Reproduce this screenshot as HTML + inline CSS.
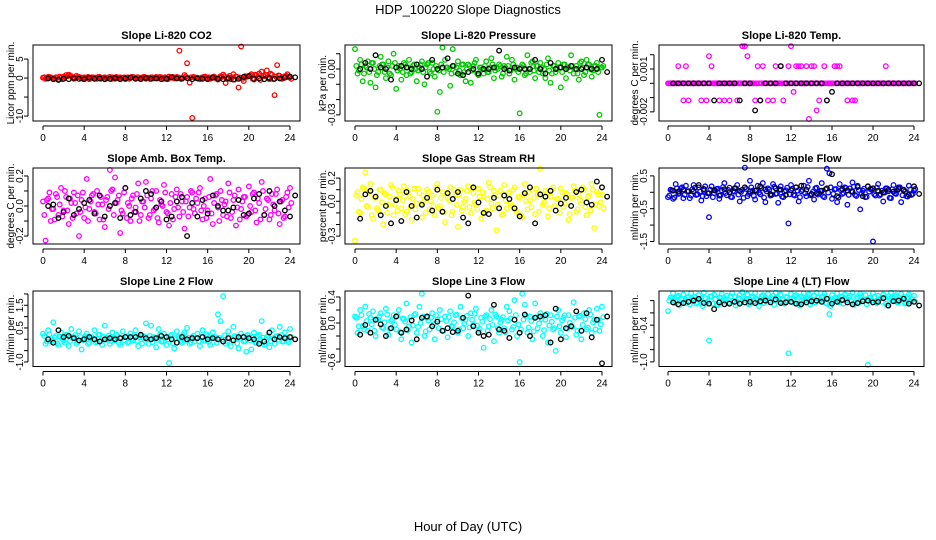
<!DOCTYPE html>
<html><head><meta charset="utf-8"><style>
html,body{margin:0;padding:0;background:#fff;}
svg{display:block;font-family:"Liberation Sans",sans-serif;}
</style></head><body>
<svg id="chart" width="936" height="540" viewBox="0 0 936 540" xmlns="http://www.w3.org/2000/svg">
<rect width="936" height="540" fill="#fff"/>
<text x="468" y="14" text-anchor="middle" font-size="13">HDP_100220  Slope Diagnostics</text>
<text x="468" y="531" text-anchor="middle" font-size="13">Hour of Day (UTC)</text>
</svg>
<script>
// Hour ticks
const hourTicks = [0,4,8,12,16,20,24];
// colored series sampled every 0.25 h (band series offset 0.125 h), black every 0.5 h
const coloredStepHours = 0.25;
const bandOffsetHours = 0.125;
const blackStepHours = 0.5;

// Panel 1: CO2 (ppm/min)
const co2Colored = [0.1,-0.2,0.3,0.2,-0.1,0.2,-0.3,0.1,0.4,0.8, 0.9,0.5,-0.2,0.6,0.3,-0.1,0.2,0.1,-0.3,0.2, 0.1,-0.2,0.3,0.0,0.2,-0.1,0.3,0.2,-0.2,0.1, 0.2,0.0,-0.3,0.2,0.1,0.3,-0.1,0.2,0.0,0.3, -0.2,0.1,0.2,-0.1,0.3,0.0,0.2,-0.2,0.1,0.4, 0.2,-0.1,0.3,7.2,0.1,0.8,3.9,-1.2,-10.5,0.2, 0.1,-0.3,0.2,0.4,0.0,-0.2,0.3,0.1,-0.4,0.5, 0.9,-1.3,0.2,-0.3,1.0,0.4,-2.5,8.3,-0.8,0.3, 0.6,1.0,-0.4,0.8,1.2,1.7,0.5,2.0,-0.3,0.9, -4.5,3.4,0.6,-0.2,0.5,1.0,0.2];
const co2Band = [0.2,-0.1,0.3,0.0,-0.2,0.1,0.4,-0.3,0.2,0.5, 0.6,0.1,-0.1,0.3,0.2,-0.2,0.0,0.3,-0.1,0.2, 0.1,0.3,-0.2,0.1,0.0,0.2,-0.3,0.1,0.3,-0.1, 0.0,0.2,0.1,-0.2,0.3,0.0,0.2,-0.1,0.1,0.3, 0.0,-0.2,0.2,0.1,-0.1,0.3,0.0,0.2,-0.3,0.1, 0.3,0.0,0.2,-0.2,0.1,0.4,-0.1,0.2,0.3,0.0, -0.2,0.1,0.3,-0.1,0.2,0.0,0.4,-0.2,0.1,0.3, 0.5,-0.3,0.6,0.2,-0.4,0.3,0.1,-0.2,0.5,0.4, 0.7,-0.2,0.9,0.3,-0.5,0.6,0.8,0.2,1.1,-0.3, 0.4,0.7,-0.1,0.3,0.6,0.2,-0.2];
const co2Black = [-0.1,-0.3,-0.5,-0.2,-0.3,0.0,-0.2,-0.3,0.1,-0.2, -0.1,-0.3,-0.2,0.0,-0.3,-0.1,0.1,-0.2,-0.3,0.0, -0.2,-0.1,-0.3,-0.2,0.2,-0.1,-0.2,0.0,-0.3,-0.1, -0.2,-0.3,0.1,-0.2,-0.3,-0.1,-0.4,-0.2,0.3,0.5, -0.2,-0.1,-0.3,0.0,-0.2,-0.1,0.1,0.4,0.2];
// Panel 2: pressure (milli-kPa/min)
const pressureColored = [13,-3,6,-8,2,5,-9,4,-12,-2, 8,3,-6,5,-4,10,-13,2,-7,4, -4,6,-2,3,-8,1,5,-10,3,-2, 4,-5,-28,-15,14,6,1,-11,13,-2, 5,-4,3,-8,3,-9,2,6,-4,1, -3,5,-2,7,-6,1,3,-5,2,8, -3,6,-7,1,-29,3,-4,9,-2,5, -6,2,4,-3,-6,7,-9,2,-2,4, -12,3,-6,1,9,-3,2,-7,5,-4, 6,3,-5,2,4,-30,1];
const pressureBand = [2,-1,3,-3,1,-2,4,0,-4,2, 3,-2,1,-3,2,4,-1,0,-2,3, 1,-3,2,0,-1,3,-2,1,4,-3, 0,2,-1,3,-2,1,0,-3,2,1, -1,3,-2,0,2,-1,4,-3,1,0, 2,-2,1,3,-1,0,2,-3,1,2, -1,3,0,-2,1,2,-3,0,4,-1, 2,-2,1,0,3,-1,-3,2,0,1, -2,3,1,-1,2,0,-3,4,1,-2, 3,0,-1,2,-2,1,2];
const pressureBlack = [0,4,0,9,1,0,-7,1,2,1, 0,3,0,-5,6,0,1,7,2,-3, -4,-2,0,-3,0,0,1,12,0,-1, 1,0,0,0,6,0,-3,4,0,1, 0,2,0,0,1,0,0,6,-2];
// Panel 3: Li-820 temp (1e-4 degC/min)
const tempColored = [0,0,0,0,12,0,-12,12,-12,0, 0,0,0,-12,0,-12,19,12,0,0, -12,0,-12,0,-12,0,0,-12,0,26, 26,19,0,0,-12,12,-12,12,0,-12, 0,-12,12,0,12,-12,0,12,26,-6, 12,12,12,0,12,-25,12,12,-19,-12, 0,12,-12,0,0,12,12,12,0,0, -12,0,-12,-12,0,0,0,0,0,0, 0,0,0,0,0,12,0,0,0,0, 0,0,0,0,0,0,0];
const tempBand = [0,0,0,0,0,0,0,0,0,0, 0,0,0,0,0,0,0,0,0,0, 0,0,0,0,0,0,0,0,0,0, 0,0,0,0,0,0,0,0,0,0, 0,0,0,0,0,0,0,0,0,0, 0,0,0,0,0,0,0,0,0,0, 0,0,0,0,0,0,0,0,0,0, 0,0,0,0,0,0,0,0,0,0, 0,0,0,0,0,0,0,0,0,0, 0,0,0,0,0,0,0];
const tempBlack = [0,0,0,0,0,0,0,0,-12,0, 0,0,0,-12,0,0,-19,-12,0,0, 0,12,0,0,0,0,0,0,0,0, -12,-6,0,0,0,0,0,0,0,0, 0,0,0,0,0,0,0,0,0];
// Panel 4: amb box temp (0.01 degC/min)
const ambColored = [3,-23,5,-10,-2,8,-6,12,-3,6, -12,2,9,-5,-20,4,-8,18,-2,7, -4,10,-9,1,-14,6,24,11,19,4, -18,-5,12,2,-10,7,-1,15,-6,3, 16,-8,5,-3,10,-11,1,14,-4,-13, 8,-2,11,-7,3,-15,6,-1,9,-5, 2,12,-9,5,-3,18,-12,7,-1,10, -6,3,15,-8,4,-13,11,-2,6,-7, 13,-4,9,-11,2,16,-6,5,-9,8, -3,11,-12,4,-7,9,12];
const ambBand = [-6,4,9,-2,-9,6,1,-7,10,-3, 5,-8,2,7,-4,9,-1,-10,3,8, -5,1,6,-9,4,-2,10,-6,2,7, -3,9,-8,0,5,-4,8,-10,3,-1, 7,-6,10,-2,-8,4,0,9,-5,2, -9,6,-1,8,-4,3,-7,10,-2,5, 9,-3,0,-8,6,-5,2,8,-10,4, 1,-7,9,-4,7,-1,-9,3,6,-6, 0,8,-3,5,-9,10,-2,4,-6,1, 8,-5,3,-8,6,-1,2];
const ambBlack = [0,1,-8,-4,5,-6,-2,2,4,-5, 7,-7,0,2,-8,12,-6,-4,5,10, 8,-1,3,-9,-7,3,6,-20,2,-7, 4,-5,7,0,-3,-3,-1,4,-6,-5, 5,8,-6,10,0,3,-3,-7,7];
// Panel 5: gas stream RH (0.01 %/min)
const rhColored = [-34,8,-10,12,25,-5,15,-15,3,-8, 10,-20,6,-3,14,-12,2,9,-6,13, -9,4,-16,11,-2,7,-14,1,10,-7, 5,-12,15,-4,8,-18,3,12,-9,6, -22,10,-5,2,13,-10,7,-3,11,-15, 4,-8,16,-2,9,-25,5,-12,14,-6, 8,-4,12,-10,3,-14,15,-7,1,10, -11,6,28,-3,9,-13,4,12,-8,2, 11,-5,7,-16,3,13,-9,6,-2,10, -12,5,15,-23,8,-4,6];
const rhBand = [5,-9,2,11,-4,8,-12,3,-6,10, -1,7,-10,4,12,-3,-8,6,1,-11, 9,-5,2,-7,11,-2,5,-10,8,0, -4,12,-6,3,-9,7,1,-12,10,-3, 6,-8,0,9,-5,11,-1,-7,4,8, -10,2,12,-6,5,-3,9,-11,1,7, -2,10,-8,4,-12,6,0,8,-5,3, 11,-9,5,-1,7,-6,10,-4,2,-10, 8,-2,6,-11,3,9,-7,1,12,-5, 4,-8,10,-3,6,-1,-6];
const rhBlack = [-15,6,9,4,-12,-4,-19,1,-17,8, -4,-14,-3,3,-8,10,-9,7,2,8, -14,-19,12,-1,-10,-11,3,-6,5,2, -6,-13,7,12,-19,6,4,9,-8,-2, 3,-4,8,10,-1,-3,17,12,4];
// Panel 6: sample flow (0.01 mL/min/min)
const sampleColored = [-15,8,-20,25,-5,12,-18,20,3,-10, 22,-8,15,-25,5,-12,-76,18,-3,10, -20,6,28,-9,14,-15,2,22,-28,8, 75,-12,35,5,-22,20,-6,28,-30,12, -10,25,-5,-32,18,-15,6,-95,22,-8, 15,-28,3,20,-12,35,-6,-22,14,-2, 28,-15,72,58,-20,9,-30,25,-5,15, -38,12,30,-8,20,-52,5,-15,18,10, -150,-10,25,-6,-28,12,3,-18,22,-5, 15,-30,8,-12,20,-8,5];
const sampleBand = [-10,6,-16,12,-4,15,-8,3,-18,9, 14,-6,2,-12,18,-3,8,-15,5,11, -9,16,-2,7,-14,4,12,-7,1,-17, 10,-5,15,-11,6,-1,13,-16,3,8, -8,17,-4,9,-13,2,14,-6,11,-10, 5,-15,7,-3,16,-9,1,12,-7,4, -12,9,-1,15,-5,10,-16,6,-2,13, -8,3,17,-11,7,-4,11,-14,2,8, -6,14,-10,5,-1,12,-17,9,-3,6, 15,-9,2,-13,8,-5,10];
const sampleBlack = [5,2,8,3,4,22,10,-3,6,-10, 9,0,12,4,15,2,5,18,9,-6, 12,8,-8,6,15,20,8,-5,-4,5, 12,55,-12,10,6,2,16,-12,18,12, 5,0,8,2,10,6,-8,18,-5];
// Panel 7: line 2 flow (0.01 mL/min/min)
const line2Colored = [25,-20,40,-10,75,15,-25,30,-5,20, -30,45,10,-20,35,-45,5,25,-15,10, 40,-10,20,-25,60,5,-20,30,-5,15, -25,35,10,-15,25,-5,40,-30,15,5, 70,-20,60,10,-35,45,-10,25,-25,-105, 20,-40,35,5,-15,30,50,-20,10,-10, 25,-30,40,-5,15,-25,30,10,110,80, 190,-20,35,-30,55,10,-40,25,-10,-55, 15,-45,30,-15,20,80,-25,10,-35,40, -20,15,55,-10,30,-5,45];
const line2Band = [15,-10,22,-5,8,-18,12,3,-15,20, -8,5,18,-12,10,-3,14,-20,6,1, -14,19,-6,11,-2,16,-9,4,21,-16, 7,-4,13,-11,2,18,-7,9,-19,12, 0,15,-13,6,-3,20,-10,8,-1,14, -17,5,11,-8,19,-2,7,-14,16,3, -9,12,-5,22,-12,4,10,-16,6,-1, 17,-11,8,-3,14,-18,2,11,-6,19, -4,9,-15,13,0,7,-20,16,-8,5, 12,-2,18,-10,6,-13,9];
const line2Black = [0,-15,40,10,15,5,-5,0,10,0, -10,0,5,0,5,10,10,10,20,5, 0,5,15,10,0,-15,10,0,5,5, 10,0,5,0,-10,5,-5,10,10,5, 0,-20,-10,30,0,10,5,10,0];
// Panel 8: line 3 flow
const line3Colored = [10,-15,20,-5,25,-12,8,18,-20,5, 15,-8,22,-18,3,12,-10,20,-25,6, 30,-5,-30,12,-15,25,45,-20,8,-10, 15,-25,5,20,-12,10,-22,18,-5,12, -15,25,-8,5,-20,15,-3,22,-12,8, -38,12,-5,20,-28,10,-15,5,-8,25, 18,-10,35,-20,-60,45,28,-15,10,-25, 30,-8,15,-20,5,-30,12,-10,-43,20, -15,8,-22,12,-5,32,-18,10,-25,15, -10,20,-15,5,22,-12,25];
const line3Band = [8,-5,12,-10,3,14,-2,-12,6,10, -7,1,13,-9,5,-3,11,-14,7,2, -11,9,-4,14,-6,0,10,-13,4,8, -2,12,-8,6,-12,3,9,-5,1,13, -10,7,-1,11,-7,5,14,-4,-9,2, 10,-12,6,-3,13,-8,1,9,-14,4, 7,-6,12,-2,-10,5,11,-7,3,-13, 9,-1,6,-11,14,-4,2,-8,10,-5, 4,12,-9,0,-6,8,-12,11,-3,6, -7,13,1,-10,5,-2,9];
const line3Black = [-18,-3,-15,5,-2,-20,-8,10,-15,-10, 4,-25,8,10,-5,2,-12,-8,-14,-12, 8,42,-5,-15,-20,-18,28,-10,-12,-23, 5,-15,13,-20,8,10,12,-30,22,-25, -8,-5,18,-12,15,-22,5,-62,10];
// Panel 9: line 4 flow
const line4Colored = [-17,5,12,-2,8,3,10,-4,6,12, 2,-5,9,4,13,-3,-65,7,10,-6, 5,11,0,8,-4,12,6,-2,9,14, 3,10,-5,7,12,1,-3,9,5,11, -2,8,13,4,10,-4,6,-86,11,2, 9,-5,7,12,3,10,-2,8,13,0, 6,11,-5,-22,9,4,12,-3,7,10, 1,8,13,-4,6,11,2,9,-105,5, 12,-2,8,4,10,-5,7,13,3,9, -3,11,6,-4,10,2,8];
const line4Band = [0,4,-4,7,-8,2,-2,5,-6,3, 6,-3,1,-9,4,-1,7,-5,2,-7, 5,-2,3,-4,7,0,-8,4,-3,6, 1,-6,5,-1,3,-9,7,-4,2,0, 4,-7,6,-2,1,-5,5,3,-3,7, -1,-8,4,0,6,-6,2,-3,5,1, 7,-4,3,-9,0,4,-2,6,-5,2, 5,-1,-7,3,-3,7,1,-6,4,0, 6,-4,2,-2,5,-8,3,0,7,-3, 1,4,-5,6,-1,2,-2];
const line4Black = [-3,-6,-4,-2,0,3,-4,-5,-14,-3, -6,-5,-2,-5,-3,-2,-4,-1,0,-3, 2,-4,-3,-2,-5,-6,-3,-1,0,-2, 3,-5,-2,1,-3,-6,-4,-1,0,-3, -2,4,-8,-1,0,3,-5,-2,-8];

// y ticks and labels
const co2Ticks=[-10,-5,0,5], co2Labels=['-10','','0','5'];
const pressureTicks=[-30,-20,-10,0,10], pressureLabels=['-0.03','','','0.00',''];
const tempTicks=[-20,-10,0,10,20], tempLabels=['-0.002','','','0.001',''];
const ambTicks=[-20,-10,0,10,20], ambLabels=['-0.2','','0.0','','0.2'];
const rhTicks=[-30,-20,-10,0,10,20], rhLabels=['-0.3','','','0.0','','0.2'];
const sampleTicks=[-150,-100,-50,0,50], sampleLabels=['-1.5','','-0.5','','0.5'];
const line2Ticks=[-100,-50,0,50,100,150,200], line2Labels=['-1.0','','','0.5','','1.5',''];
const line3Ticks=[-60,-40,-20,0,20,40], line3Labels=['-0.6','','','0.0','','0.4'];
const line4Ticks=[-100,-80,-60,-40,-20,0], line4Labels=['-1.0','','','-0.4','',''];

const NS='http://www.w3.org/2000/svg';
const svg=document.getElementById('chart');
function mk(tag,attrs,parent){const e=document.createElementNS(NS,tag);for(const k in attrs)e.setAttribute(k,attrs[k]);(parent||svg).appendChild(e);return e;}

const cols=[{l:33,r:300,x0:43,x1:290,yl:8,tl:23},{l:345,r:612,x0:355,x1:602,yl:320,tl:335},{l:659,r:924,x0:668,x1:914,yl:632,tl:647}];
const rows=[{t:45,b:121},{t:168,b:244},{t:291,b:366.5}];
const panels=[
 {name:'co2',title:'Slope Li-820 CO2',ylab:'Licor ppm per min.',col:0,row:0,dom:[-11.3,8.7],c:co2Colored,b:co2Band,k:co2Black,color:'#ff0000',ticks:co2Ticks,labels:co2Labels},
 {name:'pressure',title:'Slope Li-820 Pressure',ylab:'kPa per min.',col:1,row:0,dom:[-34,15.7],c:pressureColored,b:pressureBand,k:pressureBlack,color:'#00c800',ticks:pressureTicks,labels:pressureLabels},
 {name:'temp',title:'Slope Li-820 Temp.',ylab:'degrees C per min.',col:2,row:0,dom:[-26.4,26.8],c:tempColored,b:tempBand,k:tempBlack,color:'#ff00ff',ticks:tempTicks,labels:tempLabels},
 {name:'amb-temp',title:'Slope Amb. Box Temp.',ylab:'degrees C per min.',col:0,row:1,dom:[-25.3,25.3],c:ambColored,b:ambBand,k:ambBlack,color:'#ff00ff',ticks:ambTicks,labels:ambLabels},
 {name:'rh',title:'Slope Gas Stream RH',ylab:'percent per min.',col:1,row:1,dom:[-36.8,28.7],c:rhColored,b:rhBand,k:rhBlack,color:'#ffff00',ticks:rhTicks,labels:rhLabels},
 {name:'sample-flow',title:'Slope Sample Flow',ylab:'ml/min per min.',col:2,row:1,dom:[-157.6,74],c:sampleColored,b:sampleBand,k:sampleBlack,color:'#0000ff',ticks:sampleTicks,labels:sampleLabels},
 {name:'line2-flow',title:'Slope Line 2 Flow',ylab:'ml/min per min.',col:0,row:2,dom:[-120,213],c:line2Colored,b:line2Band,k:line2Black,color:'#00ffff',ticks:line2Ticks,labels:line2Labels},
 {name:'line3-flow',title:'Slope Line 3 Flow',ylab:'ml/min per min.',col:1,row:2,dom:[-66.9,49.2],c:line3Colored,b:line3Band,k:line3Black,color:'#00ffff',ticks:line3Ticks,labels:line3Labels},
 {name:'line4-flow',title:'Slope Line 4 (LT) Flow',ylab:'ml/min per min.',col:2,row:2,dom:[-107.5,15.7],c:line4Colored,b:line4Band,k:line4Black,color:'#00ffff',ticks:line4Ticks,labels:line4Labels}
];

panels.forEach(p=>{
 const C=cols[p.col],R=rows[p.row];
 const xs=h=>C.x0+(C.x1-C.x0)*h/24;
 const ys=v=>R.b-(v-p.dom[0])/(p.dom[1]-p.dom[0])*(R.b-R.t);
 const g=mk('g',{});
 
 
 const t=mk('text',{x:(C.l+C.r)/2,y:R.t-6,'text-anchor':'middle','font-size':'11','font-weight':'bold'},g);
 t.textContent=p.title;
 
 
 const pts=mk('g',{fill:'none','stroke-width':'1.3'},g);
 
 
 p.c.forEach((v,i)=>{
  const c=mk('circle',{cx:xs(i*coloredStepHours),cy:ys(v),r:2.3,stroke:p.color},pts);
  
  
 });
 p.b.forEach((v,i)=>{
  const c=mk('circle',{cx:xs(i*coloredStepHours+bandOffsetHours),cy:ys(v),r:2.3,stroke:p.color},pts);
  
  
 });
 p.k.forEach((v,i)=>{
  const c=mk('circle',{cx:xs(i*blackStepHours+0.5),cy:ys(v),r:2.3,stroke:'#000'},pts);
  
  
 });
 const box=mk('rect',{x:C.l,y:R.t,width:C.r-C.l,height:R.b-R.t,fill:'none',stroke:'#000','stroke-width':'1'},g);
 
 
 const xa=mk('g',{},g);
 
 
 mk('line',{x1:xs(0),x2:xs(24),y1:R.b+5,y2:R.b+5,stroke:'#000'},xa);
 hourTicks.forEach(h=>{
  mk('line',{x1:xs(h),x2:xs(h),y1:R.b+5,y2:R.b+9,stroke:'#000'},xa);
  const tl=mk('text',{x:xs(h),y:R.b+20,'text-anchor':'middle','font-size':'10'},xa);
  tl.textContent=h;
  
  
 });
 const ya=mk('g',{},g);
 
 
 const ax=C.l-5;
 mk('line',{x1:ax,x2:ax,y1:ys(p.ticks[0]),y2:ys(p.ticks[p.ticks.length-1]),stroke:'#000'},ya);
 p.ticks.forEach((v,i)=>{
  mk('line',{x1:ax-4,x2:ax,y1:ys(v),y2:ys(v),stroke:'#000'},ya);
  if(p.labels[i]){
   const tl=mk('text',{x:C.tl,y:ys(v),'text-anchor':'middle','font-size':'10',transform:`rotate(-90 ${C.tl} ${ys(v)})`},ya);
   tl.textContent=p.labels[i];
   
   
  }
 });
 const yc=(R.t+R.b)/2;
 const yl=mk('text',{x:C.yl+3,y:yc+3,'text-anchor':'middle','font-size':'10',transform:`rotate(-90 ${C.yl+3} ${yc})`},ya);
 yl.textContent=p.ylab;
 
 
});
</script>
</body></html>
